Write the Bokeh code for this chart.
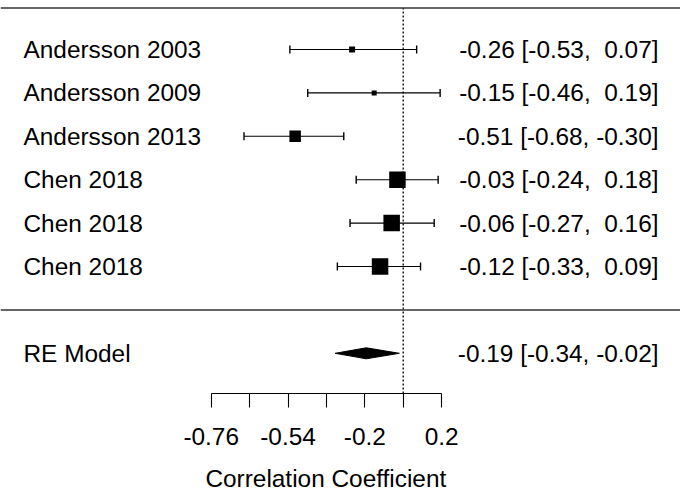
import numpy as np
from bokeh.plotting import figure
from bokeh.models import (ColumnDataSource, Whisker, TeeHead, Span, LinearAxis,
                          FixedTicker, Range1d, Title)
from bokeh.core.properties import value
from bokeh.embed import file_html
from bokeh.resources import INLINE

# ---------------- data ----------------
studies = ["Andersson 2003", "Andersson 2009", "Andersson 2013",
           "Chen 2018", "Chen 2018", "Chen 2018"]
r_est = [-0.26, -0.15, -0.51, -0.03, -0.06, -0.12]
r_lo = [-0.53, -0.46, -0.68, -0.24, -0.27, -0.33]
r_hi = [0.07, 0.19, -0.30, 0.18, 0.16, 0.09]
weight_px = [6, 5, 11.5, 16.5, 16.5, 16.5]   # square sides (study weights)

re_label = "RE Model"
re_est, re_lo, re_hi = -0.19, -0.34, -0.02

tick_z = [-1.0, -0.8, -0.6, -0.4, -0.2, 0.0, 0.2]          # Fisher z positions
tick_labels = ["-0.76", "", "-0.54", "", "-0.2", "", "0.2"]  # back-transformed r
x_title = "Correlation Coefficient"

# ---------------- layout ----------------
FONT = "Liberation Sans"
FS = "24.4px"
PX_PER_Z = 192.0
Z0_ABS = 402.7
PX_PER_ROW = 43.4
ROW_TOP_ABS = 49.0
FRAME_W, FRAME_H = 680, 393
k = len(studies)

x_start = -Z0_ABS / PX_PER_Z
x_end = x_start + FRAME_W / PX_PER_Z
y_end = k + ROW_TOP_ABS / PX_PER_ROW
y_start = y_end - FRAME_H / PX_PER_ROW

def ax_x(px_abs):
    return x_start + px_abs / PX_PER_Z

def ax_y(py_abs):
    return y_end - py_abs / PX_PER_ROW

rows = list(range(k, 0, -1))
z_est = np.arctanh(r_est)
z_lo = np.arctanh(r_lo)
z_hi = np.arctanh(r_hi)

def fmt(v):
    s = f"{v:.2f}"
    return s if s.startswith("-") else "\u00a0" + s

ann = [f"{fmt(e)} [{fmt(l)}, {fmt(h)}]" for e, l, h in zip(r_est, r_lo, r_hi)]
re_ann = f"{fmt(re_est)} [{fmt(re_lo)}, {fmt(re_hi)}]"

src = ColumnDataSource(dict(y=rows, est=z_est, lo=z_lo, hi=z_hi,
                            size=weight_px, name=studies, ann=ann))

p = figure(frame_width=FRAME_W, frame_height=FRAME_H,
           x_range=Range1d(x_start, x_end), y_range=Range1d(y_start, y_end),
           output_backend="svg", toolbar_location=None,
           x_axis_location=None, y_axis_location=None, min_border=0)
p.grid.visible = False
p.outline_line_color = None
p.background_fill_color = "white"
p.border_fill_color = "white"

# horizontal separators
p.add_layout(Span(location=ax_y(7.5), dimension="width",
                  line_color="#333333", line_width=1.5))
p.add_layout(Span(location=0, dimension="width",
                  line_color="#333333", line_width=1.5))
# reference (null) line, from the top separator down to the axis
p.segment(x0=[0], y0=[y_start], x1=[0], y1=[ax_y(7.5)], line_color="black",
          line_width=1.3, line_dash="2 2")

# confidence intervals
w = Whisker(base="y", lower="lo", upper="hi", dimension="width", source=src,
            line_color="black", line_width=1.1,
            lower_head=TeeHead(size=8, line_color="black", line_width=1.4),
            upper_head=TeeHead(size=8, line_color="black", line_width=1.4))
p.add_layout(w)

p.scatter("est", "y", source=src, marker="square", size="size",
          fill_color="black", line_color="black", line_width=0)

# RE diamond
zr = np.arctanh([re_lo, re_est, re_hi])
h = 5.5 / PX_PER_ROW
p.patch([zr[0], zr[1], zr[2], zr[1]], [-1, -1 + h, -1, -1 - h],
        fill_color="black", line_color="black", line_width=1)

# texts
xl = ax_x(23.0)
xr = ax_x(658.0)
p.text(x=xl, y="y", text="name", source=src, text_align="left",
       text_baseline="middle", text_font=value(FONT), text_font_size=FS,
       text_color="black")
p.text(x=xr, y="y", text="ann", source=src, text_align="right",
       text_baseline="middle", text_font=value(FONT), text_font_size=FS,
       text_color="black")
p.text(x=[xl], y=[-1], text=[re_label], text_align="left",
       text_baseline="middle", text_font=value(FONT), text_font_size=FS,
       text_color="black")
p.text(x=[xr], y=[-1], text=[re_ann], text_align="right",
       text_baseline="middle", text_font=value(FONT), text_font_size=FS,
       text_color="black")

# x axis (line only spans the tick range)
ax = LinearAxis(ticker=FixedTicker(ticks=tick_z), bounds=(tick_z[0], tick_z[-1]),
                major_label_overrides={t: l for t, l in zip(tick_z, tick_labels)})
ax.axis_line_color = "black"
ax.axis_line_width = 1.1
ax.major_tick_line_color = "black"
ax.major_tick_line_width = 1.1
ax.major_tick_in = 0
ax.major_tick_out = 14
ax.minor_tick_line_color = None
ax.major_label_standoff = 20
ax.major_label_text_font = FONT
ax.major_label_text_font_size = FS
ax.major_label_text_color = "black"
p.add_layout(ax, "below")

# axis title, placed under the axis span (left edge ~205 px)
title_offset = (Z0_ABS + PX_PER_Z * (tick_z[0] + tick_z[-1]) / 2) - 121
p.add_layout(Title(text=x_title, align="left", offset=title_offset,
                   text_font=FONT, text_font_size=FS, text_font_style="normal",
                   text_color="black", standoff=30), "below")

open("out.html", "w").write(file_html(p, INLINE))
